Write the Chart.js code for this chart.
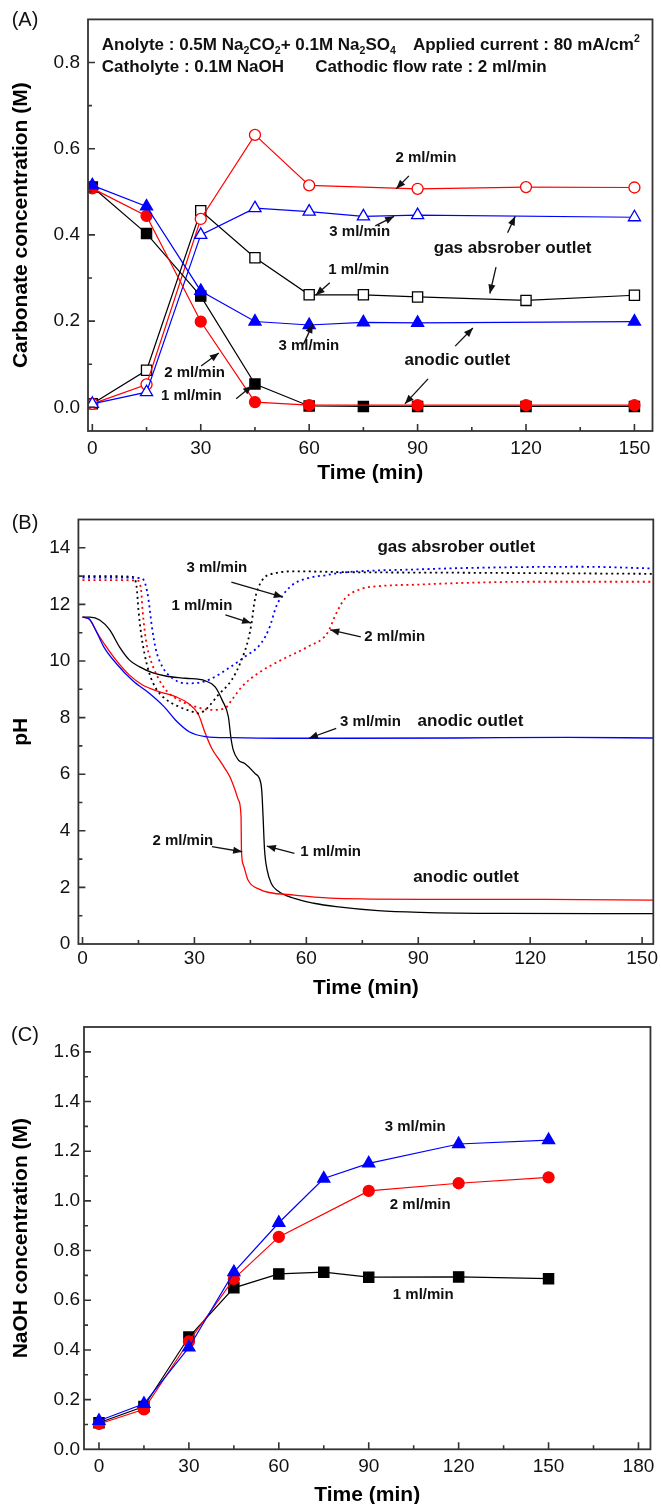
<!DOCTYPE html>
<html><head><meta charset="utf-8">
<script src="https://cdn.jsdelivr.net/npm/chart.js@4.4.1/dist/chart.umd.min.js"></script>
<style>
html,body{margin:0;padding:0;background:#fff}
body{width:661px;height:1504px;position:relative;overflow:hidden}
canvas{position:absolute;left:0}
</style></head><body>
<canvas id="cA" width="661" height="490" style="top:0px"></canvas>
<canvas id="cB" width="661" height="510" style="top:490px"></canvas>
<canvas id="cC" width="661" height="504" style="top:1000px"></canvas>
<script>
const FONT = '"Liberation Sans", Arial, Helvetica, sans-serif';
const BLACK = '#000000', RED = '#ff0000', BLUE = '#0000ff';

// ---------- Panel A : carbonate concentration ----------
const timeA   = [0, 15, 30, 45, 60, 75, 90, 120, 150];
const anodicA1 = [0.511, 0.403, 0.258, 0.054, 0.003, 0.002, 0.002, 0.002, 0.002];
const anodicA2 = [0.508, 0.444, 0.199, 0.012, 0.005, null, 0.005, 0.005, 0.005];
const anodicA3 = [0.515, 0.466, 0.270, 0.199, 0.191, 0.197, 0.196, null, 0.199];
const gasA1    = [0.008, 0.086, 0.456, 0.347, 0.261, 0.261, 0.256, 0.248, 0.260];
const gasA2    = [0.008, 0.053, 0.437, 0.632, 0.515, null, 0.507, 0.511, 0.510];
const gasA3    = [0.008, 0.035, 0.400, 0.462, 0.454, 0.443, 0.446, null, 0.441];
const xTicksA = [0, 30, 60, 90, 120, 150];
const yTicksA = [0.0, 0.2, 0.4, 0.6, 0.8];

// ---------- Panel B : pH ----------
const tAn1  = [0, 2, 4.6, 7.3, 9.9, 12.6, 15.2, 18.7, 22.3, 27.6, 32.9, 35.6, 37.5, 39.1, 39.8, 40.4, 41.8, 43.5, 46.2, 47.8, 48.1, 48.4, 48.8, 49.5, 50.6, 52.3, 56.8, 62, 68, 79.2, 90.5, 112.8, 153];
const pHAn1 = [11.55, 11.55, 11.45, 11.1, 10.5, 10.03, 9.8, 9.59, 9.47, 9.39, 9.3, 9.08, 8.6, 8.03, 7.27, 6.86, 6.5, 6.38, 6.03, 5.68, 5.32, 4.5, 3.32, 2.61, 2.14, 1.88, 1.61, 1.44, 1.32, 1.18, 1.12, 1.08, 1.07];
const tAn2  = [0, 2, 4, 6.4, 9, 12.6, 16.1, 20.5, 24.9, 28.4, 31.1, 32.9, 34.7, 37.3, 39.5, 40.9, 41.8, 42.5, 42.6, 43.1, 44.4, 47.5, 50, 56.8, 68, 90.5, 124, 153];
const pHAn2 = [11.55, 11.45, 10.98, 10.5, 10.03, 9.5, 9.15, 8.92, 8.74, 8.5, 8.1, 7.45, 6.9, 6.38, 5.91, 5.44, 5.09, 4.5, 3.32, 2.8, 2.25, 1.93, 1.82, 1.73, 1.61, 1.58, 1.58, 1.55];
const tAn3  = [0, 1.7, 3.5, 5.7, 9, 13.5, 17.9, 21.9, 25.3, 28.6, 32.9, 40, 53.2, 70, 100, 130, 153];
const pHAn3 = [11.55, 11.5, 11.1, 10.5, 9.92, 9.3, 8.86, 8.38, 7.86, 7.5, 7.33, 7.29, 7.27, 7.27, 7.28, 7.3, 7.28];
const tGas1  = [0, 6, 13.4, 14.5, 15.0, 15.7, 16.6, 17.9, 19.7, 22.3, 25.8, 29.4, 31.1, 32.9, 36.4, 40.0, 42.6, 44.4, 45.3, 46.2, 47.9, 51.5, 57.7, 70, 100, 153];
const pHGas1 = [13.0, 13.0, 12.97, 12.62, 11.8, 10.98, 10.27, 9.57, 9.03, 8.65, 8.39, 8.21, 8.15, 8.27, 8.8, 9.33, 10.03, 10.74, 11.33, 12.16, 12.8, 13.1, 13.17, 13.14, 13.12, 13.08];
const tGas2  = [0, 6, 14.8, 15.7, 16.1, 17.0, 18.3, 20.1, 22.3, 25.8, 30.2, 34.7, 38.2, 40.0, 42.7, 47.1, 53.2, 60.3, 65.6, 68, 70.3, 74.8, 80, 90, 100, 120, 153];
const pHGas2 = [12.86, 12.86, 12.84, 12.51, 11.8, 10.74, 10.03, 9.45, 8.98, 8.62, 8.39, 8.27, 8.33, 8.62, 9.09, 9.57, 10.03, 10.5, 10.98, 11.68, 12.2, 12.55, 12.65, 12.7, 12.75, 12.8, 12.8];
const tGas3  = [0, 6, 15.7, 16.8, 17.7, 18.6, 19.7, 21.4, 24.1, 27.6, 31.1, 34.7, 39.1, 43.5, 47.9, 50.2, 51.9, 53.7, 56.8, 61.2, 65.6, 68, 90.5, 112.8, 133.9, 153];
const pHGas3 = [12.95, 12.95, 12.93, 12.74, 12.16, 11.21, 10.39, 9.8, 9.39, 9.21, 9.23, 9.39, 9.74, 10.15, 10.63, 11.21, 11.92, 12.33, 12.74, 12.95, 13.04, 13.1, 13.24, 13.31, 13.33, 13.27];
const xTicksB = [0, 30, 60, 90, 120, 150];
const yTicksB = [0, 2, 4, 6, 8, 10, 12, 14];

// ---------- Panel C : NaOH concentration ----------
const timeC = [0, 15, 30, 45, 60, 75, 90, 120, 150];
const naoh1 = [0.107, 0.172, 0.452, 0.650, 0.706, 0.713, 0.693, 0.694, 0.687];
const naoh2 = [0.102, 0.161, 0.434, 0.686, 0.855, null, 1.040, 1.071, 1.095];
const naoh3 = [0.115, 0.183, 0.410, 0.713, 0.912, 1.090, 1.151, 1.229, 1.245];
const xTicksC = [0, 30, 60, 90, 120, 150, 180];
const yTicksC = [0.0, 0.2, 0.4, 0.6, 0.8, 1.0, 1.2, 1.4, 1.6];

// ---------- annotations (data coordinates) ----------
const notesA = [
  {x: 92.3, y: 0.578, t: '2 ml/min', s: 15}, {x: 74, y: 0.407, t: '3 ml/min', s: 15},
  {x: 116.3, y: 0.368, t: 'gas absrober outlet', s: 17}, {x: 73.7, y: 0.32, t: '1 ml/min', s: 15},
  {x: 59.9, y: 0.142, t: '3 ml/min', s: 15}, {x: 101, y: 0.109, t: 'anodic outlet', s: 17},
  {x: 28.3, y: 0.081, t: '2 ml/min', s: 15}, {x: 27.4, y: 0.027, t: '1 ml/min', s: 15}
];
const arrowsA = [
  [87.6, 0.537, 84.1, 0.507], [78.3, 0.421, 83.5, 0.443], [114.9, 0.405, 117, 0.443],
  [111.7, 0.325, 110, 0.264], [65.7, 0.289, 61.8, 0.26], [58.4, 0.146, 61, 0.193],
  [100.4, 0.142, 105.3, 0.184], [92.9, 0.066, 86.5, 0.008], [30.1, 0.096, 35, 0.126],
  [39.8, 0.02, 44.2, 0.05]
];
const headerA = [
  {x: 2.6, y: 0.839, parts: [{t: 'Anolyte : 0.5M Na'}, {t: '2', sub: 1}, {t: 'CO'}, {t: '2', sub: 1}, {t: '+ 0.1M Na'}, {t: '2', sub: 1}, {t: 'SO'}, {t: '4', sub: 1}]},
  {x: 88.7, y: 0.839, parts: [{t: 'Applied current : 80 mA/cm'}, {t: '2', sup: 1}]},
  {x: 2.6, y: 0.789, parts: [{t: 'Catholyte : 0.1M NaOH'}]},
  {x: 61.7, y: 0.789, parts: [{t: 'Cathodic flow rate : 2 ml/min'}]}
];
const notesB = [
  {x: 100.2, y: 14.03, t: 'gas absrober outlet', s: 17}, {x: 36, y: 13.3, t: '3 ml/min', s: 15},
  {x: 32, y: 11.94, t: '1 ml/min', s: 15}, {x: 83.7, y: 10.85, t: '2 ml/min', s: 15},
  {x: 77.2, y: 7.86, t: '3 ml/min', s: 15}, {x: 104, y: 7.86, t: 'anodic outlet', s: 17},
  {x: 26.9, y: 3.65, t: '2 ml/min', s: 15}, {x: 66.5, y: 3.26, t: '1 ml/min', s: 15},
  {x: 102.8, y: 2.36, t: 'anodic outlet', s: 17}
];
const arrowsB = [
  [39.9, 12.79, 53.7, 12.26], [38.3, 11.63, 45.2, 11.34], [74.6, 10.85, 66.4, 11.1],
  [68, 7.62, 60.7, 7.27], [34.7, 3.44, 42.8, 3.26], [56.8, 3.2, 49.4, 3.46]
];
const notesC = [
  {x: 105.5, y: 1.30, t: '3 ml/min', s: 15}, {x: 107.2, y: 0.983, t: '2 ml/min', s: 15},
  {x: 108.2, y: 0.623, t: '1 ml/min', s: 15}
];

// ---------- helpers ----------
const pts = (xs, ys) => xs.map((x, i) => ({x, y: ys[i]})).filter(p => p.y !== null);
const mids = arr => arr.slice(1).map((v, i) => (v + arr[i]) / 2);

function drawArrow(ctx, x1, y1, x2, y2) {
  ctx.beginPath(); ctx.moveTo(x1, y1); ctx.lineTo(x2, y2); ctx.stroke();
  const a = Math.atan2(y2 - y1, x2 - x1), L = 9, W = 3.6;
  ctx.beginPath(); ctx.moveTo(x2, y2);
  ctx.lineTo(x2 - L * Math.cos(a) + W * Math.sin(a), y2 - L * Math.sin(a) - W * Math.cos(a));
  ctx.lineTo(x2 - L * Math.cos(a) - W * Math.sin(a), y2 - L * Math.sin(a) + W * Math.cos(a));
  ctx.closePath(); ctx.fill();
}
function drawRich(ctx, x, y, parts, size) {
  let cx = x;
  ctx.textAlign = 'left'; ctx.textBaseline = 'middle';
  for (const p of parts) {
    const s = (p.sub || p.sup) ? size * 0.62 : size;
    ctx.font = `bold ${s}px ${FONT}`;
    const dy = p.sub ? size * 0.32 : (p.sup ? -size * 0.36 : 0);
    ctx.fillText(p.t, cx, y + dy);
    cx += ctx.measureText(p.t).width;
  }
}

function deco(spec) {
  return {
    id: 'deco' + spec.name,
    afterDatasetsDraw(chart) {
      const {ctx, chartArea: a, scales: {x, y}} = chart;
      ctx.save();
      ctx.strokeStyle = '#333'; ctx.lineWidth = 1.6;
      ctx.beginPath();
      const xt = (v, len) => { const p = x.getPixelForValue(v); if (p > a.left + 1 && p < a.right - 1) { ctx.moveTo(p, a.bottom); ctx.lineTo(p, a.bottom - len); } };
      const yt = (v, len) => { const p = y.getPixelForValue(v); if (p > a.top + 1 && p < a.bottom - 1) { ctx.moveTo(a.left, p); ctx.lineTo(a.left + len, p); } };
      spec.xMaj.forEach(v => xt(v, 7)); mids(spec.xMaj).forEach(v => xt(v, 4));
      spec.yMaj.forEach(v => yt(v, 7)); mids(spec.yMaj).forEach(v => yt(v, 4));
      ctx.stroke();
      ctx.lineWidth = 1.8;
      ctx.strokeRect(a.left, a.top, a.right - a.left, a.bottom - a.top);
      ctx.restore();
    },
    afterDraw(chart) {
      const {ctx, scales: {x, y}} = chart;
      ctx.save();
      ctx.fillStyle = '#111'; ctx.strokeStyle = '#111'; ctx.lineWidth = 1.3;
      (spec.notes || []).forEach(n => {
        ctx.font = `bold ${n.s}px ${FONT}`; ctx.textAlign = 'center'; ctx.textBaseline = 'middle';
        ctx.fillText(n.t, x.getPixelForValue(n.x), y.getPixelForValue(n.y));
      });
      (spec.arrows || []).forEach(r => drawArrow(ctx, x.getPixelForValue(r[0]), y.getPixelForValue(r[1]), x.getPixelForValue(r[2]), y.getPixelForValue(r[3])));
      (spec.header || []).forEach(h => drawRich(ctx, x.getPixelForValue(h.x), y.getPixelForValue(h.y), h.parts, 17));
      ctx.font = `20px ${FONT}`; ctx.textAlign = 'center'; ctx.textBaseline = 'middle'; ctx.fillStyle = '#111';
      ctx.fillText(spec.label, 25, spec.labelY);
      ctx.restore();
    }
  };
}

function build(id, datasets, sx, sy, spec) {
  return new Chart(document.getElementById(id), {
    type: 'line',
    data: {datasets},
    options: {
      responsive: false, animation: false, events: [],
      layout: {padding: {left: 0, right: spec.padR, top: spec.padT, bottom: 0}},
      plugins: {legend: {display: false}, tooltip: {enabled: false}},
      scales: {
        x: {
          type: 'linear', min: sx.min, max: sx.max,
          afterBuildTicks: s => { s.ticks = sx.ticks.map(v => ({value: v})); },
          ticks: {font: {family: FONT, size: 19}, color: '#111', padding: sx.pad, maxRotation: 0, autoSkip: false, callback: sx.fmt},
          grid: {display: false, drawTicks: false}, border: {display: false},
          title: {display: true, text: sx.title, color: '#000', font: {family: FONT, size: 21, weight: 'bold', lineHeight: sx.lh}, padding: {top: 0, bottom: sx.tpad}},
          afterFit: s => { s.height = sx.h; }
        },
        y: {
          type: 'linear', min: sy.min, max: sy.max,
          afterBuildTicks: s => { s.ticks = sy.ticks.map(v => ({value: v})); },
          ticks: {font: {family: FONT, size: 19}, color: '#111', padding: sy.pad, autoSkip: false, callback: sy.fmt},
          grid: {display: false, drawTicks: false}, border: {display: false},
          title: {display: true, text: sy.title, color: '#000', font: {family: FONT, size: 21, weight: 'bold', lineHeight: 1.2}, padding: {top: sy.tpad, bottom: 0}},
          afterFit: s => { s.width = sy.w; }
        }
      }
    },
    plugins: [deco(spec)]
  });
}

function markerSet(label, xs, ys, color, style, r, open) {
  return {
    label, data: pts(xs, ys), borderColor: color, borderWidth: 1.2,
    pointStyle: style, pointRadius: r, pointBorderWidth: 1.3,
    pointBorderColor: color, pointBackgroundColor: open ? '#ffffff' : color,
    backgroundColor: color, tension: 0, fill: false
  };
}
function curve(label, xs, ys, color, dotted) {
  return {
    label, data: pts(xs, ys), borderColor: color, borderWidth: dotted ? 1.8 : 1.3,
    borderDash: dotted ? [2, 3.5] : [], pointRadius: 0, fill: false,
    cubicInterpolationMode: 'monotone'
  };
}

const fmt1 = v => Number(v).toFixed(1);
const fmt0 = v => String(Math.round(v));

// Panel A
build('cA', [
  markerSet('anodic 3 ml/min', timeA, anodicA3, BLUE, 'triangle', 7, false),
  markerSet('anodic 2 ml/min', timeA, anodicA2, RED, 'circle', 5.5, false),
  markerSet('anodic 1 ml/min', timeA, anodicA1, BLACK, 'rect', 7.2, false),
  markerSet('gas 3 ml/min', timeA, gasA3, BLUE, 'triangle', 7, true),
  markerSet('gas 2 ml/min', timeA, gasA2, RED, 'circle', 5.5, true),
  markerSet('gas 1 ml/min', timeA, gasA1, BLACK, 'rect', 7.2, true)
], {min: -1.2, max: 155, ticks: xTicksA, fmt: fmt0, pad: 6, title: 'Time (min)', lh: 1.2, tpad: 4.4, h: 59},
   {min: -0.055, max: 0.9, ticks: yTicksA, fmt: fmt1, pad: 8, title: 'Carbonate concentration (M)', tpad: 9, w: 88},
   {name: 'A', padR: 2, padT: 13, xMaj: xTicksA, yMaj: yTicksA, notes: notesA, arrows: arrowsA, header: headerA, label: '(A)', labelY: 20});

// Panel B
build('cB', [
  curve('gas 3 ml/min', tGas3, pHGas3, BLUE, true),
  curve('gas 2 ml/min', tGas2, pHGas2, RED, true),
  curve('gas 1 ml/min', tGas1, pHGas1, BLACK, true),
  curve('anodic 3 ml/min', tAn3, pHAn3, BLUE, false),
  curve('anodic 2 ml/min', tAn2, pHAn2, RED, false),
  curve('anodic 1 ml/min', tAn1, pHAn1, BLACK, false)
], {min: -1.1, max: 153, ticks: xTicksB, fmt: fmt0, pad: 3, title: 'Time (min)', lh: 1.1, tpad: 0.5, h: 56},
   {min: 0, max: 15, ticks: yTicksB, fmt: fmt0, pad: 8, title: 'pH', tpad: 9, w: 78.4},
   {name: 'B', padR: 2, padT: 29.5, xMaj: xTicksB, yMaj: yTicksB, notes: notesB, arrows: arrowsB, label: '(B)', labelY: 33});

// Panel C
build('cC', [
  markerSet('3 ml/min', timeC, naoh3, BLUE, 'triangle', 7, false),
  markerSet('2 ml/min', timeC, naoh2, RED, 'circle', 5.5, false),
  markerSet('1 ml/min', timeC, naoh1, BLACK, 'rect', 7.2, false)
], {min: -5, max: 184, ticks: xTicksC, fmt: fmt0, pad: 6.5, title: 'Time (min)', lh: 0.85, tpad: 0, h: 54.7},
   {min: 0, max: 1.7, ticks: yTicksC, fmt: fmt1, pad: 4, title: 'NaOH concentration (M)', tpad: 9, w: 84},
   {name: 'C', padR: 3, padT: 27, xMaj: xTicksC, yMaj: yTicksC, notes: notesC, label: '(C)', labelY: 35});
</script>
</body></html>
